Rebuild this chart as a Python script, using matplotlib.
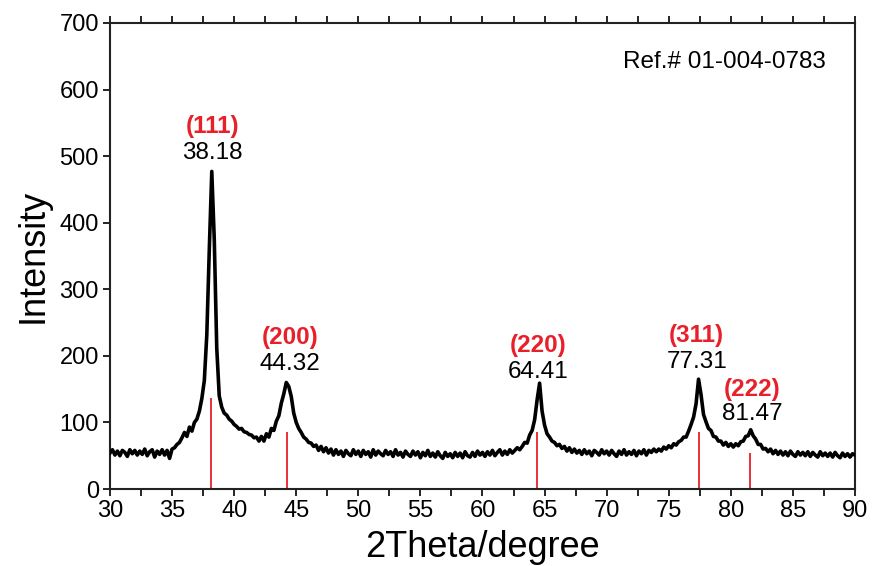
import numpy as np
import matplotlib
matplotlib.use("Agg")
import matplotlib.pyplot as plt
from matplotlib.ticker import MultipleLocator

plt.rcParams['font.family'] = ['Liberation Sans', 'DejaVu Sans']

# measured pattern, 30..90 deg every 0.2 deg
two_theta = np.linspace(30, 90, 301)
intensity = [
    54, 59, 51, 57, 50, 58, 55, 49, 59, 53,
    58, 51, 57, 52, 60, 50, 56, 59, 48, 57,
    52, 59, 51, 58, 46, 60, 62, 67, 70, 77,
    85, 79, 93, 87, 100, 105, 117, 136, 163, 232,
    360, 477, 375, 212, 140, 123, 114, 111, 105, 102,
    97, 94, 90, 91, 86, 85, 82, 81, 77, 78,
    72, 79, 72, 83, 78, 91, 88, 102, 110, 129,
    143, 160, 154, 139, 114, 100, 91, 85, 78, 75,
    70, 69, 64, 66, 58, 64, 56, 62, 54, 60,
    51, 59, 52, 57, 49, 58, 53, 50, 59, 52,
    57, 49, 58, 52, 56, 48, 59, 51, 57, 53,
    50, 58, 52, 56, 49, 59, 51, 55, 48, 57,
    52, 49, 57, 51, 56, 47, 55, 50, 58, 49,
    54, 48, 56, 50, 46, 55, 49, 53, 47, 55,
    49, 54, 47, 56, 50, 48, 55, 49, 57, 51,
    55, 49, 56, 51, 58, 50, 55, 59, 51, 57,
    52, 59, 54, 58, 62, 59, 64, 70, 69, 81,
    88, 104, 134, 159, 117, 96, 83, 78, 72, 70,
    65, 67, 61, 64, 57, 62, 55, 60, 54, 58,
    52, 59, 53, 57, 50, 58, 55, 51, 59, 53,
    57, 51, 58, 53, 49, 57, 52, 59, 51, 56,
    52, 58, 50, 57, 53, 59, 51, 58, 55, 60,
    56, 60, 57, 63, 60, 65, 62, 68, 66, 71,
    73, 78, 78, 87, 97, 108, 128, 165, 142, 112,
    101, 91, 88, 79, 78, 72, 72, 66, 70, 64,
    68, 63, 68, 65, 71, 72, 79, 80, 89, 80,
    75, 67, 67, 60, 61, 56, 60, 53, 58, 52,
    57, 51, 56, 50, 57, 52, 49, 56, 51, 55,
    50, 56, 49, 55, 51, 48, 56, 50, 54, 49,
    54, 48, 55, 50, 47, 54, 49, 53, 48, 53,
    51,
]

# reference card sticks
ref_pos = [38.12, 44.28, 64.43, 77.47, 81.54]
ref_height = [137, 86, 86, 86, 54]

# peak labels
hkl = ['(111)', '(200)', '(220)', '(311)', '(222)']
peak_pos = ['38.18', '44.32', '64.41', '77.31', '81.47']
label_x = [38.25, 44.5, 64.45, 77.25, 81.75]
hkl_y = [544, 228, 215, 231, 149]
pos_y = [505, 188, 176, 191, 113]

red = '#e8202a'

fig = plt.figure(figsize=(8.72, 5.66), dpi=100)
ax = fig.add_axes([0.1261, 0.136, 0.8544, 0.8234])

ax.plot(two_theta, intensity, color='black', lw=2.6, zorder=3)
ax.vlines(ref_pos, 0, ref_height, color=red, lw=1.3, zorder=2)

for i in range(len(hkl)):
    ax.text(label_x[i], hkl_y[i], hkl[i], color=red, fontsize=17.5,
            fontweight='bold', ha='center', va='center')
    ax.text(label_x[i], pos_y[i], peak_pos[i], color='black', fontsize=17.5,
            ha='center', va='center')

ax.text(79.5, 641, 'Ref.# 01-004-0783', fontsize=17.5, ha='center', va='center')

ax.set_xlim(30, 90)
ax.set_ylim(0, 700)
ax.xaxis.set_major_locator(MultipleLocator(5))
ax.xaxis.set_minor_locator(MultipleLocator(2.5))
ax.yaxis.set_major_locator(MultipleLocator(100))
ax.tick_params(axis='x', which='both', direction='out', length=5, width=1.2,
               top=True, labelsize=17, pad=3)
ax.tick_params(axis='y', which='both', direction='out', length=5, width=1.2,
               right=False, labelsize=17, pad=3)
for s in ax.spines.values():
    s.set_linewidth(1.5)
    s.set_color('#222222')

ax.set_xlabel('2Theta/degree', fontsize=26, labelpad=6)
ax.set_ylabel('Intensity', fontsize=26, labelpad=6)

fig.savefig('out.png', dpi=100)
